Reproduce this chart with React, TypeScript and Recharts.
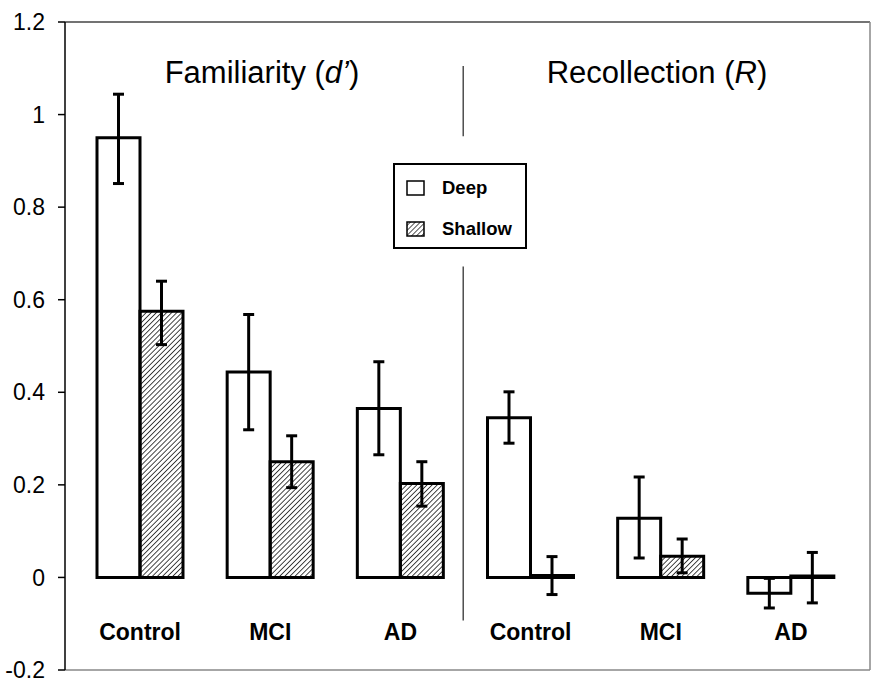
import { Bar, BarChart, ErrorBar, ReferenceLine, XAxis, YAxis } from 'recharts';

const groups = ['Control', 'MCI', 'AD', 'Control', 'MCI', 'AD'];
const deepValues = [0.95, 0.444, 0.365, 0.345, 0.128, -0.034];
const shallowValues = [0.575, 0.25, 0.203, 0.004, 0.046, 0.003];
const deepErrLow = [0.099, 0.125, 0.1, 0.055, 0.086, 0.032];
const deepErrHigh = [0.094, 0.124, 0.101, 0.056, 0.089, 0.032];
const shallowErrLow = [0.072, 0.056, 0.049, 0.041, 0.036, 0.058];
const shallowErrHigh = [0.065, 0.056, 0.047, 0.041, 0.037, 0.051];
const yTicks = [-0.2, 0, 0.2, 0.4, 0.6, 0.8, 1, 1.2];

const FONT = '"Liberation Sans", Arial, sans-serif';

const data = groups.map((group, i) => ({
  group,
  pos: i + 0.5,
  deep: deepValues[i],
  shallow: shallowValues[i],
  deepErr: [deepErrLow[i], deepErrHigh[i]],
  shallowErr: [shallowErrLow[i], shallowErrHigh[i]],
}));

function GroupTick({ x, y, payload }: any) {
  return (
    <text
      x={x}
      y={y - 38}
      textAnchor="middle"
      dominantBaseline="central"
      fontFamily={FONT}
      fontWeight="bold"
      fontSize={23}
      fill="#000"
    >
      {payload.value}
    </text>
  );
}

function Swatch({ hatched }: { hatched?: boolean }) {
  return (
    <svg width={19} height={16} style={{ display: 'block' }}>
      <defs>
        <pattern id="hatchSmall" width={3.5} height={3.5} patternUnits="userSpaceOnUse" patternTransform="rotate(45)">
          <line x1={0} y1={0} x2={0} y2={3.5} stroke="#000" strokeWidth={1.3} />
        </pattern>
      </defs>
      <rect x={1} y={1} width={17} height={14} fill={hatched ? 'url(#hatchSmall)' : '#fff'} stroke="#000" strokeWidth={1.5} />
    </svg>
  );
}

export default function App() {
  return (
    <div style={{ position: 'absolute', left: 0, top: 0, width: 880, height: 684, background: '#fff', fontFamily: FONT }}>
      <BarChart
        width={880}
        height={684}
        data={data}
        margin={{ top: 21, right: 9, bottom: 13, left: 0 }}
        barGap={0}
        barSize={43}
      >
        <defs>
          <pattern id="hatch" width={3.6} height={3.6} patternUnits="userSpaceOnUse" patternTransform="rotate(45)">
            <line x1={0} y1={0} x2={0} y2={3.6} stroke="#000" strokeWidth={1.45} />
          </pattern>
        </defs>
        <XAxis
          dataKey="group"
          height={1}
          interval={0}
          tickLine={false}
          tickSize={0}
          tickMargin={0}
          tick={<GroupTick />}
          axisLine={{ stroke: '#888', strokeWidth: 1.5 }}
          padding={{ left: 10, right: 14 }}
        />
        <XAxis xAxisId="top" orientation="top" dataKey="group" height={1} tick={false} tickLine={false} axisLine={{ stroke: '#444', strokeWidth: 1.5 }} />
        <XAxis
          xAxisId="num"
          type="number"
          dataKey="pos"
          domain={[0, 6]}
          allowDataOverflow
          hide
          padding={{ left: 9, right: 15 }}
        />
        <YAxis
          domain={[-0.2, 1.2]}
          ticks={yTicks}
          width={65}
          tickSize={7}
          tickMargin={13}
          interval={0}
          tick={{ fontSize: 23, fill: '#000', fontFamily: FONT }}
          tickLine={{ stroke: '#000', strokeWidth: 1.5 }}
          axisLine={{ stroke: '#000', strokeWidth: 1.5 }}
        />
        <YAxis yAxisId="right" orientation="right" domain={[-0.2, 1.2]} width={1} tick={false} tickLine={false} axisLine={{ stroke: '#888', strokeWidth: 1.5 }} />
        <ReferenceLine xAxisId="num" segment={[{ x: 2.99, y: 1.105 }, { x: 2.99, y: 0.953 }]} stroke="#333" strokeWidth={1.3} />
        <ReferenceLine xAxisId="num" segment={[{ x: 2.99, y: 0.672 }, { x: 2.99, y: -0.093 }]} stroke="#333" strokeWidth={1.3} />
        <Bar dataKey="deep" fill="#fff" stroke="#000" strokeWidth={3} isAnimationActive={false}>
          <ErrorBar dataKey="deepErr" width={5.5} stroke="#000" strokeWidth={3} />
        </Bar>
        <Bar dataKey="shallow" fill="url(#hatch)" stroke="#000" strokeWidth={3} isAnimationActive={false}>
          <ErrorBar dataKey="shallowErr" width={5.5} stroke="#000" strokeWidth={3} />
        </Bar>
      </BarChart>

      <div style={{ position: 'absolute', left: 262, top: 55, transform: 'translateX(-50%)', fontSize: 31, lineHeight: '36px', whiteSpace: 'nowrap' }}>
        Familiarity (<i>d’</i>)
      </div>
      <div style={{ position: 'absolute', left: 657, top: 55, transform: 'translateX(-50%)', fontSize: 31, lineHeight: '36px', whiteSpace: 'nowrap' }}>
        Recollection (<i>R</i>)
      </div>

      <div
        style={{
          position: 'absolute',
          left: 393,
          top: 163,
          width: 134,
          height: 86,
          boxSizing: 'border-box',
          border: '2px solid #000',
          background: '#fff',
        }}
      >
        <div style={{ position: 'absolute', left: 11, top: 15 }}>
          <Swatch />
        </div>
        <div style={{ position: 'absolute', left: 47, top: 12, fontSize: 18.5, fontWeight: 'bold', lineHeight: '22px' }}>Deep</div>
        <div style={{ position: 'absolute', left: 11, top: 56 }}>
          <Swatch hatched />
        </div>
        <div style={{ position: 'absolute', left: 47, top: 53, fontSize: 18.5, fontWeight: 'bold', lineHeight: '22px' }}>Shallow</div>
      </div>
    </div>
  );
}
